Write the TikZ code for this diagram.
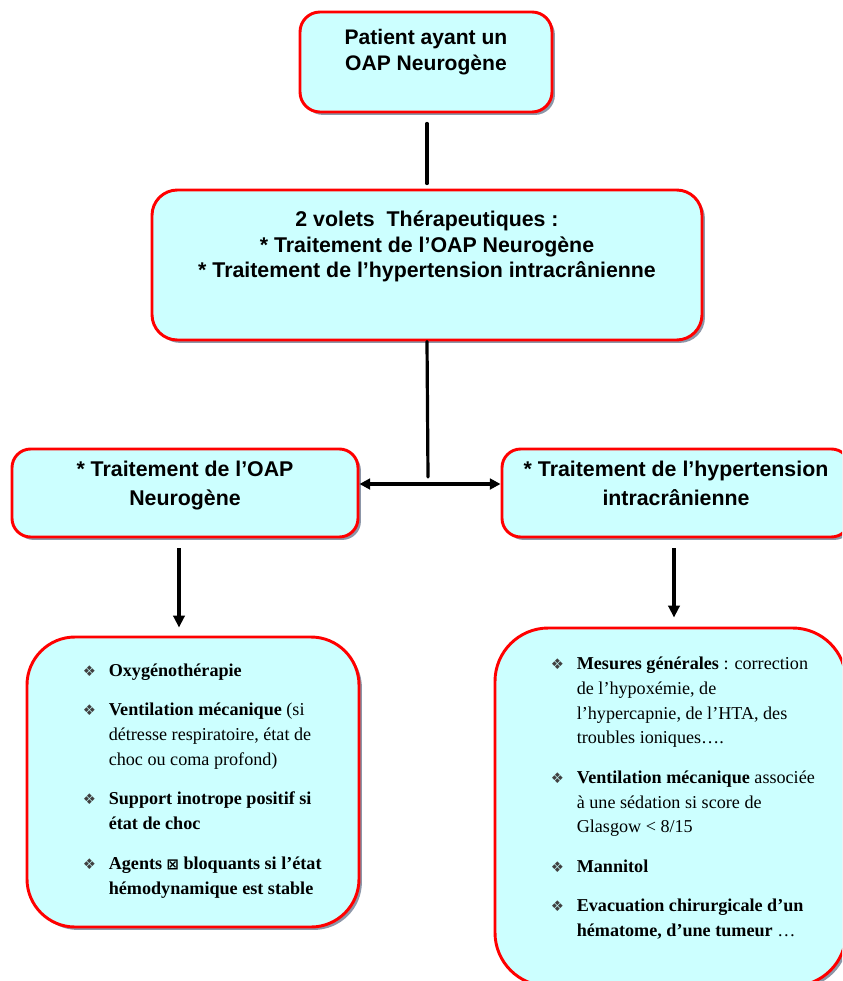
\documentclass[tikz,border=0pt]{standalone}
\usepackage{fontspec}
\setmainfont{Liberation Serif}
\newfontfamily\arialfont{Liberation Sans}
\newfontfamily\dingfont{DejaVu Sans}
\usetikzlibrary{arrows.meta, shadows}
\definecolor{boxfill}{RGB}{204, 255, 255}
\definecolor{boxline}{RGB}{255, 0, 0}
\definecolor{shade}{RGB}{140, 150, 168}
\newcommand{\itm}{\makebox[19.5pt][l]{\color{black!75}\dingfont\fontsize{11}{11}\selectfont ❖}}
\newcommand{\cnt}{\hspace*{19.5pt}}
\newcommand{\gap}{11pt}

\begin{document}
\begin{tikzpicture}[x=0.75pt, y=-0.75pt,
  box/.style={draw=boxline, line width=2.2pt, fill=boxfill, inner sep=0pt,
    rounded corners=#1,
    drop shadow={shadow xshift=2.2pt, shadow yshift=-2.2pt, fill=shade, opacity=1}},
  box/.default=15pt,
  head/.style={inner sep=0pt, align=center, font=\arialfont\bfseries},
  pts/.style={inner sep=0pt, align=left, anchor=north west,
    font=\fontsize{13.6}{18.6}\selectfont},
  link/.style={line width=2.4pt, line cap=round},
  arr/.style={line width=2.4pt, -{Triangle[length=9pt, width=8.5pt]}},
  dbl/.style={line width=2.4pt, {Triangle[length=8pt, width=8pt]}-{Triangle[length=8pt, width=8pt]}}]
  \useasboundingbox (0,0) rectangle (842,981);
  \clip (0,0) rectangle (842,981);

  % boxes
  \node[box, minimum width=0.75*252pt, minimum height=0.75*100pt] (top) at (426,62) {};
  \node[box=19pt, minimum width=0.75*550pt, minimum height=0.75*150pt] (mid) at (427,265) {};
  \node[box=14pt, minimum width=0.75*346pt, minimum height=0.75*88pt] (lbox) at (185,493) {};
  \node[box=14pt, minimum width=0.75*348pt, minimum height=0.75*88pt] (rbox) at (676,493) {};
  \node[box=36pt, minimum width=0.75*332pt, minimum height=0.75*290pt] (lpts) at (193,782) {};
  \node[box=40pt, minimum width=0.75*351pt, minimum height=0.75*358pt] (rpts) at (670.5,807) {};

  % titles
  \node[head, font=\arialfont\bfseries\fontsize{15.8}{19.8}\selectfont, anchor=north]
    (toptxt) at ([shift={(0,18)}]top.north) {Patient ayant un\\OAP Neurogène};
  \node[head, font=\arialfont\bfseries\fontsize{16}{19.2}\selectfont, anchor=north]
    (midtxt) at ([shift={(0,22)}]mid.north)
    {2 volets \ Thérapeutiques :\\* Traitement de l’OAP Neurogène\\* Traitement de l’hypertension intracrânienne};
  \node[head, font=\arialfont\bfseries\fontsize{16}{21.75}\selectfont, anchor=north]
    (ltxt) at ([shift={(0,13)}]lbox.north) {* Traitement de l’OAP\\Neurogène};
  \node[head, font=\arialfont\bfseries\fontsize{16}{21.75}\selectfont, anchor=north]
    (rtxt) at ([shift={(0,13)}]rbox.north) {* Traitement de l’hypertension\\intracrânienne};

  % lists
  \node[pts] (llist) at ([shift={(57,28)}]lpts.north west)
    {\itm\textbf{Oxygénothérapie}\\[\gap]
     \itm\textbf{Ventilation mécanique} (si\\
     \cnt détresse respiratoire, état de\\
     \cnt choc ou coma profond)\\[\gap]
     \itm\textbf{Support inotrope positif si}\\
     \cnt\textbf{état de choc}\\[\gap]
     \itm\textbf{Agents {\dingfont\fontsize{11}{11}\selectfont ⊠} bloquants si l’état}\\
     \cnt\textbf{hémodynamique est stable}};
  \node[pts] (rlist) at ([shift={(57,30)}]rpts.north west)
    {\itm\textbf{Mesures générales} : correction\\
     \cnt de l’hypoxémie, de\\
     \cnt l’hypercapnie, de l’HTA, des\\
     \cnt troubles ioniques….\\[\gap]
     \itm\textbf{Ventilation mécanique} associée\\
     \cnt à une sédation si score de\\
     \cnt Glasgow < 8/15\\[\gap]
     \itm\textbf{Mannitol}\\[\gap]
     \itm\textbf{Evacuation chirurgicale d’un}\\
     \cnt\textbf{hématome, d’une tumeur} …};

  % connectors
  \coordinate (split) at (428,477);
  \draw[link] ([shift={(1,10)}]top.south) -- ([shift={(0,-5)}]mid.north);
  \draw[link] (mid.south) -- (split);
  \draw[dbl] ([shift={(0,-9)}]lbox.east) -- ([shift={(0,-9)}]rbox.west);
  \draw[arr] ([shift={(-6,10)}]lbox.south) -- ([shift={(-14,-8)}]lpts.north);
  \draw[arr] ([shift={(-2,10)}]rbox.south) -- ([shift={(3.5,-9)}]rpts.north);
\end{tikzpicture}
\end{document}
